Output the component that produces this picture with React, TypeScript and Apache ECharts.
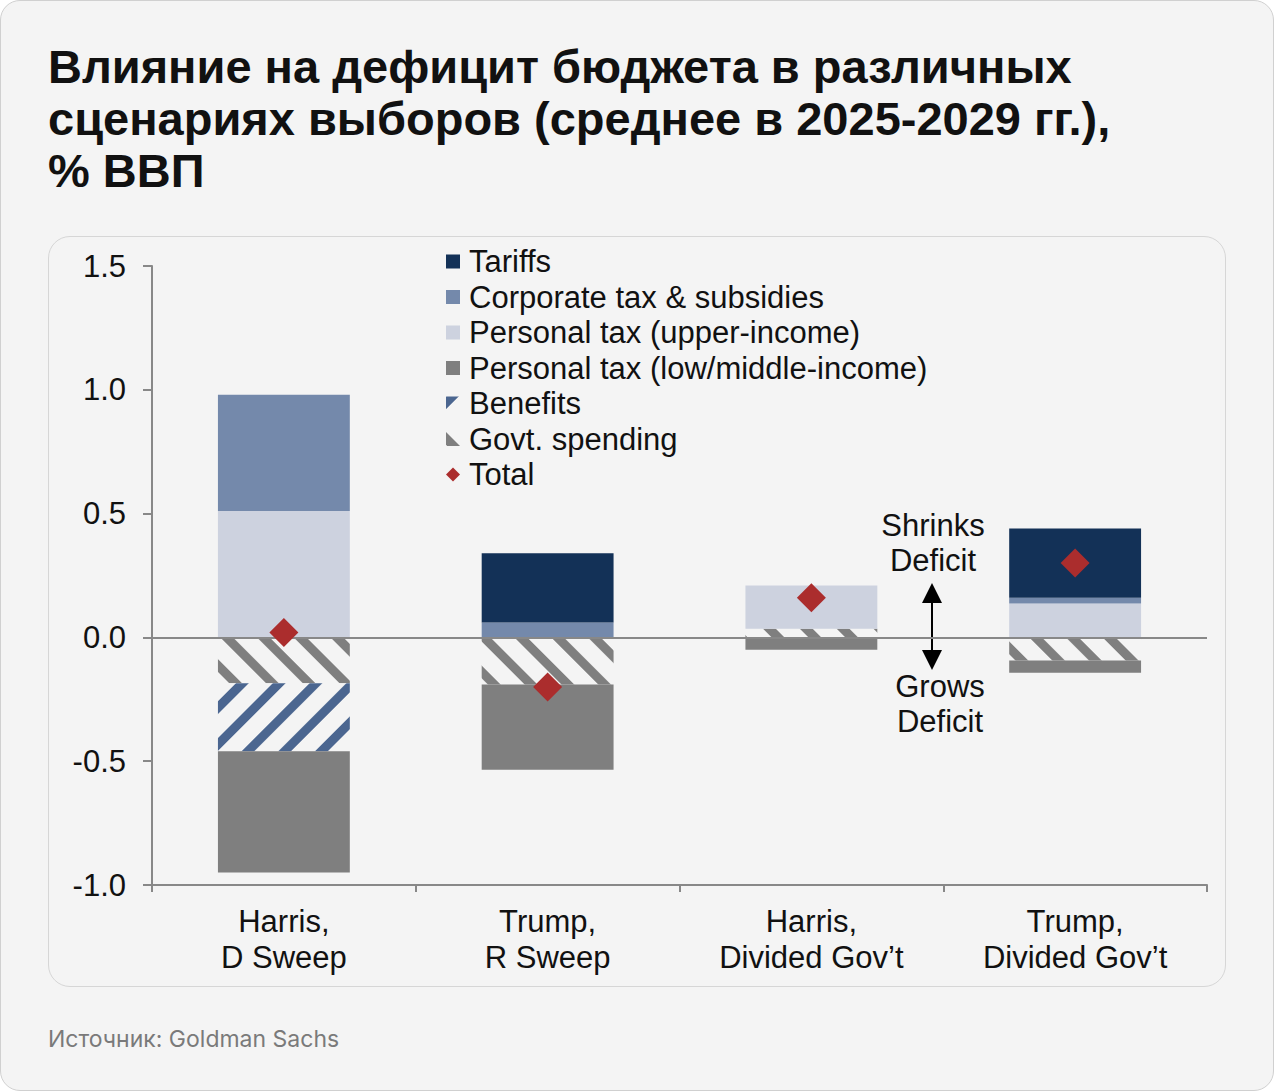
import React, { useEffect, useRef } from 'react';
import * as echarts from 'echarts';

const categories = ['Harris,\nD Sweep', 'Trump,\nR Sweep', 'Harris,\nDivided Gov’t', 'Trump,\nDivided Gov’t'];
const tariffs = [0, 0.28, 0, 0.28];
const corporate = [0.47, 0.06, 0, 0.023];
const personalUpper = [0.51, 0, 0.175, 0.137];
const personalLow = [-0.49, -0.345, -0.05, -0.05];
const benefits = [-0.275, 0, 0, 0];
const govtSpending = [-0.185, -0.19, 0.035, -0.093];
const total = [0.02, -0.2, 0.16, 0.3];

const seriesNames = [
  'Tariffs',
  'Corporate tax & subsidies',
  'Personal tax (upper-income)',
  'Personal tax (low/middle-income)',
  'Benefits',
  'Govt. spending',
  'Total',
];

const AXIS_FONT = '"Liberation Sans", Arial, Helvetica, sans-serif';

export default function App() {
  const ref = useRef<HTMLDivElement>(null);
  useEffect(() => {
    document.body.style.margin = '0';
    const chart = echarts.init(ref.current!, null, { renderer: 'svg' });
    const bg = '#f4f4f4';
    const hatchGray = {
      symbol: 'rect',
      symbolSize: 1,
      dashArrayX: [1, 0],
      dashArrayY: [9, 17],
      rotation: Math.PI / 4,
      color: '#7f7f7f',
    };
    const hatchBlue = {
      symbol: 'rect',
      symbolSize: 1,
      dashArrayX: [1, 0],
      dashArrayY: [9, 17],
      rotation: -Math.PI / 4,
      color: '#4b6690',
    };
    const barBase = { type: 'bar', stack: 'all', barWidth: '50%' };
    chart.setOption({
      animation: false,
      backgroundColor: 'transparent',
      title: {
        text: 'Влияние на дефицит бюджета в различных\nсценариях выборов (среднее в 2025-2029 гг.),\n% ВВП',
        left: 48,
        top: 40,
        padding: 0,
        textStyle: {
          fontFamily: AXIS_FONT,
          fontWeight: 'bold',
          fontSize: 47,
          lineHeight: 52,
          color: '#111',
        },
      },
      legend: {
        orient: 'vertical',
        left: 446,
        top: 244,
        padding: 0,
        itemWidth: 14,
        itemHeight: 14,
        itemGap: 0.5,
        data: seriesNames.map((n) => ({ name: n, icon: n === 'Total' ? 'diamond' : 'rect' })),
        textStyle: {
          fontFamily: AXIS_FONT,
          fontSize: 31,
          lineHeight: 35,
          color: '#111',
          padding: [0, 0, 0, 4],
        },
        selectedMode: false,
      },
      grid: { left: 152, right: 67, top: 266, bottom: 206 },
      xAxis: {
        type: 'category',
        data: categories,
        axisLine: { onZero: false, lineStyle: { color: '#888', width: 2 } },
        axisTick: { show: true, length: 7, lineStyle: { color: '#888', width: 2 } },
        axisLabel: {
          fontFamily: AXIS_FONT,
          fontSize: 31,
          lineHeight: 36,
          color: '#111',
          margin: 18,
        },
      },
      yAxis: {
        type: 'value',
        min: -1,
        max: 1.5,
        interval: 0.5,
        splitLine: { show: false },
        axisLine: { show: true, lineStyle: { color: '#888', width: 2 } },
        axisTick: { show: true, length: 9, lineStyle: { color: '#888', width: 2 } },
        axisLabel: {
          fontFamily: AXIS_FONT,
          fontSize: 31,
          color: '#111',
          margin: 26,
          formatter: (v: number) => v.toFixed(1),
        },
      },
      series: [
        {
          ...barBase,
          name: 'Govt. spending',
          data: govtSpending,
          itemStyle: { color: bg, decal: hatchGray },
        },
        {
          ...barBase,
          name: 'Benefits',
          data: benefits,
          itemStyle: { color: bg, decal: hatchBlue },
        },
        {
          ...barBase,
          name: 'Personal tax (low/middle-income)',
          data: personalLow,
          itemStyle: { color: '#7f7f7f' },
        },
        {
          ...barBase,
          name: 'Personal tax (upper-income)',
          data: personalUpper,
          itemStyle: { color: '#cdd2df' },
        },
        {
          ...barBase,
          name: 'Corporate tax & subsidies',
          data: corporate,
          itemStyle: { color: '#7489ab' },
        },
        {
          ...barBase,
          name: 'Tariffs',
          data: tariffs,
          itemStyle: { color: '#133157' },
          markLine: {
            silent: true,
            symbol: 'none',
            label: { show: false },
            lineStyle: { color: '#888', width: 2, type: 'solid' },
            data: [{ yAxis: 0 }],
          },
        },
        {
          type: 'scatter',
          name: 'Total',
          data: total,
          symbol: 'diamond',
          symbolSize: 29,
          z: 5,
          itemStyle: { color: '#ab2d2d', opacity: 1 },
        },
      ],
      graphic: [
        {
          type: 'text',
          left: 48,
          top: 1027,
          style: {
            text: 'Источник: Goldman Sachs',
            fill: '#7a7a7a',
            font: '23px Inter, "Noto Sans", sans-serif',
          },
        },
        {
          type: 'text',
          x: 933,
          y: 543,
          style: {
            text: 'Shrinks\nDeficit',
            fill: '#111',
            font: '31px ' + AXIS_FONT,
            lineHeight: 35,
            align: 'center',
            verticalAlign: 'middle',
          },
        },
        {
          type: 'text',
          x: 940,
          y: 704,
          style: {
            text: 'Grows\nDeficit',
            fill: '#111',
            font: '31px ' + AXIS_FONT,
            lineHeight: 35,
            align: 'center',
            verticalAlign: 'middle',
          },
        },
        {
          type: 'line',
          shape: { x1: 932, y1: 598, x2: 932, y2: 655 },
          style: { stroke: '#000', lineWidth: 2 },
        },
        {
          type: 'polygon',
          shape: { points: [[932, 583], [922, 603], [942, 603]] },
          style: { fill: '#000' },
        },
        {
          type: 'polygon',
          shape: { points: [[932, 670], [922, 650], [942, 650]] },
          style: { fill: '#000' },
        },
      ],
    });
    return () => chart.dispose();
  }, []);
  return (
    <div style={{ position: 'relative', width: 1274, height: 1091, background: '#fff' }}>
      <div
        style={{
          position: 'absolute',
          left: 0,
          top: 0,
          width: 1272,
          height: 1089,
          border: '1px solid #d0d0d0',
          borderRadius: 20,
          background: '#f4f4f4',
        }}
      />
      <div
        style={{
          position: 'absolute',
          left: 48,
          top: 236,
          width: 1176,
          height: 749,
          border: '1px solid #d6d6d6',
          borderRadius: 22,
        }}
      />
      <div ref={ref} style={{ position: 'absolute', left: 0, top: 0, width: 1274, height: 1091 }} />
    </div>
  );
}
